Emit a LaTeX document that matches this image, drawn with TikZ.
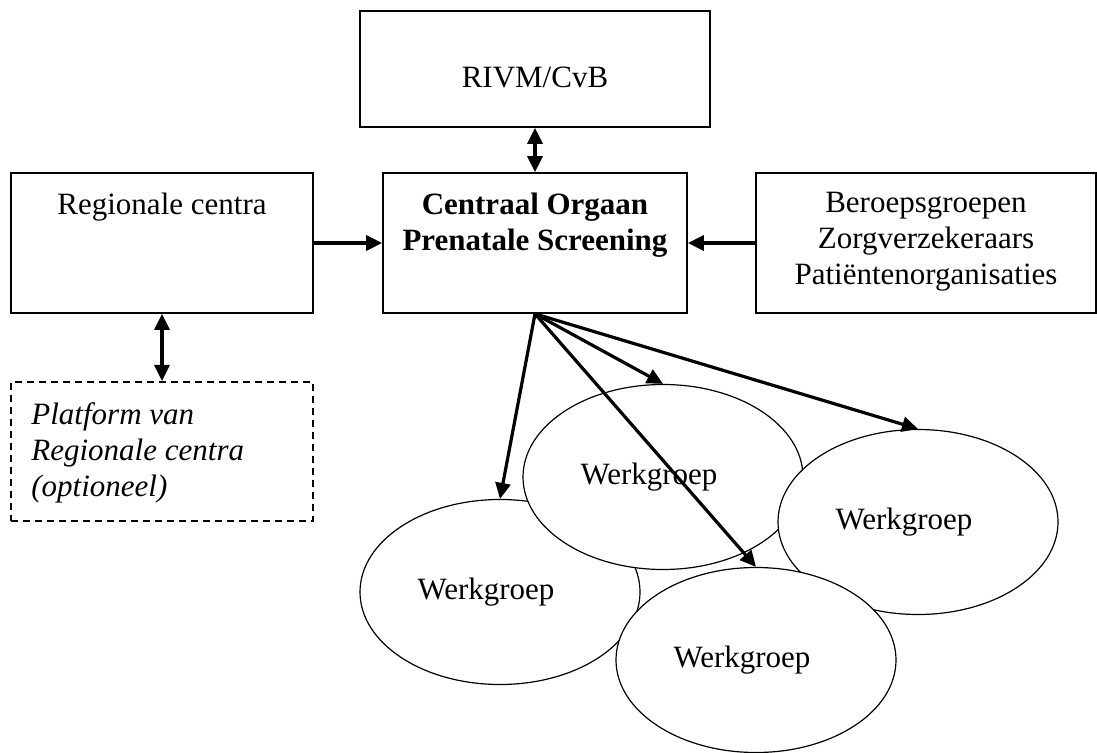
\documentclass[tikz,border=0pt]{standalone}
\usepackage{fontspec}
\setmainfont{Liberation Serif}
\usepackage{tikz}
\usetikzlibrary{shapes.geometric, arrows.meta, positioning}
\newcommand{\bodysize}{\fontsize{15.5}{18}\selectfont}

\begin{document}
\begin{tikzpicture}[
    x=0.5pt, y=-0.5pt,
    every node/.style={font=\bodysize},
    block/.style={rectangle, draw, line width=0.85pt, inner sep=0pt, minimum height=70pt},
    blocktext/.style={inner sep=0pt, align=center},
    group/.style={ellipse, draw, fill=white, line width=0.6pt, minimum width=140pt, minimum height=92.5pt, inner sep=0pt},
    link/.style={line width=1.6pt, -{Triangle[length=8pt, width=7.5pt]}},
    dlink/.style={line width=1.6pt, {Triangle[length=8pt, width=7.5pt]}-{Triangle[length=8pt, width=7.5pt]}}
]
\useasboundingbox (0,0) rectangle (1097,753);

\node[block, minimum width=175pt, minimum height=58pt] (rivm) at (535,69) {};
\node[blocktext, below=28pt of rivm.north] (rivm text) {RIVM/CvB};

\node[block, minimum width=152pt] (central) at (535,243) {};
\node[blocktext, font=\bodysize\bfseries, below=10pt of central.north] (central text) {Centraal Orgaan\\Prenatale Screening};

\node[block, minimum width=151pt] (regional) at (162,243) {};
\node[blocktext, below=10pt of regional.north] (regional text) {Regionale centra};

\node[block, minimum width=170pt] (partners) at (926,243) {};
\node[blocktext, below=10pt of partners.north] (partners text) {Beroepsgroepen\\Zorgverzekeraars\\Patiëntenorganisaties};

\node[block, dashed, dash pattern=on 3.5pt off 2.5pt, line width=1pt, minimum width=151pt, minimum height=69.5pt] (platform) at (162,451.5) {};
\node[blocktext, align=left, font=\bodysize\itshape, below right=10.5pt and 10.5pt of platform.north west] (platform text) {Platform van\\Regionale centra\\(optioneel)};

\node[group] (wg1) at (500,592) {Werkgroep\hspace*{14pt}};
\node[group] (wg2) at (663,477) {Werkgroep\hspace*{14pt}};
\node[group] (wg3) at (918,522) {Werkgroep\hspace*{14pt}};
\node[group] (wg4) at (756,660) {Werkgroep\hspace*{14pt}};

\draw[dlink] (rivm.south) -- (central.north);
\draw[link] (regional.east) -- (central.west);
\draw[link] (partners.west) -- (central.east);
\draw[dlink] (regional.south) -- (platform.north);
\foreach \g in {wg1, wg2, wg4, wg3}
    \draw[link] (central.south) -- (\g.north);
\end{tikzpicture}
\end{document}
